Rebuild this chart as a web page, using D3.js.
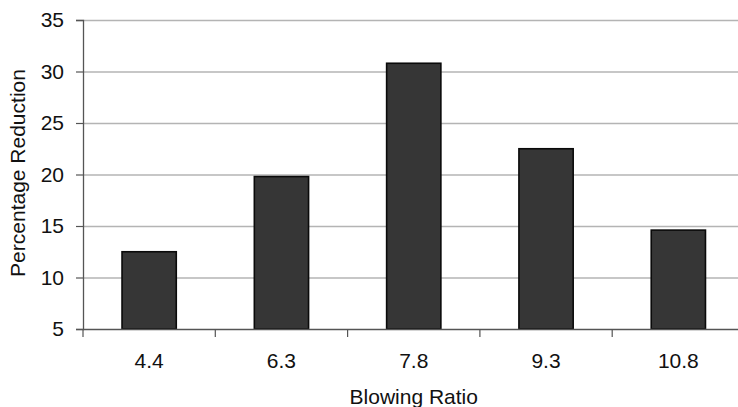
<!DOCTYPE html>
<html>
<head>
<meta charset="utf-8">
<script src="https://cdn.jsdelivr.net/npm/d3@7"></script>
<style>
  html, body { margin: 0; padding: 0; background: #fff; }
  svg { display: block; font-family: "Liberation Sans", Arial, sans-serif; }
</style>
</head>
<body>
<svg id="chart" width="738" height="407"></svg>
<script>
// Percentage reduction at each blowing ratio
const categories = ["4.4", "6.3", "7.8", "9.3", "10.8"];
const reduction = [12.5, 19.8, 30.8, 22.5, 14.6];
const yTicks = [5, 10, 15, 20, 25, 30, 35];

const svg = d3.select("#chart");
const plotLeft = 83, plotRight = 744.5, plotTop = 20, plotBottom = 329;
const fontSize = 21;

const x = d3.scaleBand().domain(categories).range([plotLeft, plotRight]).paddingInner(0.59).paddingOuter(0.295);
const xBand = d3.scaleBand().domain(categories).range([plotLeft, plotRight]);
const y = d3.scaleLinear().domain([5, 35]).range([plotBottom, plotTop]);

// horizontal gridlines
svg.append("g").selectAll("line").data(yTicks.filter(d => d > 5)).join("line")
  .attr("x1", plotLeft).attr("x2", plotRight)
  .attr("y1", d => y(d) + 0.5).attr("y2", d => y(d) + 0.5)
  .attr("stroke", "#b4b4b4").attr("stroke-width", 1.3);

// bars
svg.append("g").selectAll("rect").data(categories).join("rect")
  .attr("x", (d) => x(d))
  .attr("width", x.bandwidth())
  .attr("y", (d, i) => y(reduction[i]))
  .attr("height", (d, i) => plotBottom - y(reduction[i]))
  .attr("fill", "#363636")
  .attr("stroke", "#0a0a0a").attr("stroke-width", 1.6);

// y axis
const yAxis = svg.append("g").attr("transform", `translate(${plotLeft},0)`)
  .call(d3.axisLeft(y).tickValues(yTicks).tickSize(7).tickPadding(12));
yAxis.select(".domain").attr("stroke", "#555").attr("stroke-width", 1.3);
yAxis.selectAll(".tick line").attr("stroke", "#555").attr("stroke-width", 1.2);
yAxis.selectAll(".tick text").attr("font-size", fontSize).attr("fill", "#111")
  .attr("font-family", "'Liberation Sans', Arial, sans-serif");

// x axis: ticks at category boundaries
const xAxisG = svg.append("g").attr("transform", `translate(0,${plotBottom})`);
xAxisG.append("line").attr("x1", plotLeft).attr("x2", plotRight).attr("y1", 0.5).attr("y2", 0.5)
  .attr("stroke", "#555").attr("stroke-width", 1.3);
xAxisG.selectAll("line.tk").data(categories).join("line").attr("class", "tk")
  .attr("x1", d => xBand(d)).attr("x2", d => xBand(d))
  .attr("y1", 0).attr("y2", 8).attr("stroke", "#555").attr("stroke-width", 1.2);
xAxisG.selectAll("text").data(categories).join("text")
  .attr("x", d => xBand(d) + xBand.bandwidth() / 2)
  .attr("y", 39)
  .attr("text-anchor", "middle").attr("font-size", fontSize).attr("fill", "#111")
  .text(d => d);

// axis titles
svg.append("text").attr("x", (plotLeft + plotRight) / 2).attr("y", 404)
  .attr("text-anchor", "middle").attr("font-size", fontSize).attr("fill", "#111")
  .text("Blowing Ratio");
svg.append("text")
  .attr("transform", `translate(25,173) rotate(-90)`)
  .attr("text-anchor", "middle").attr("font-size", fontSize).attr("fill", "#111")
  .text("Percentage Reduction");
</script>
</body>
</html>
